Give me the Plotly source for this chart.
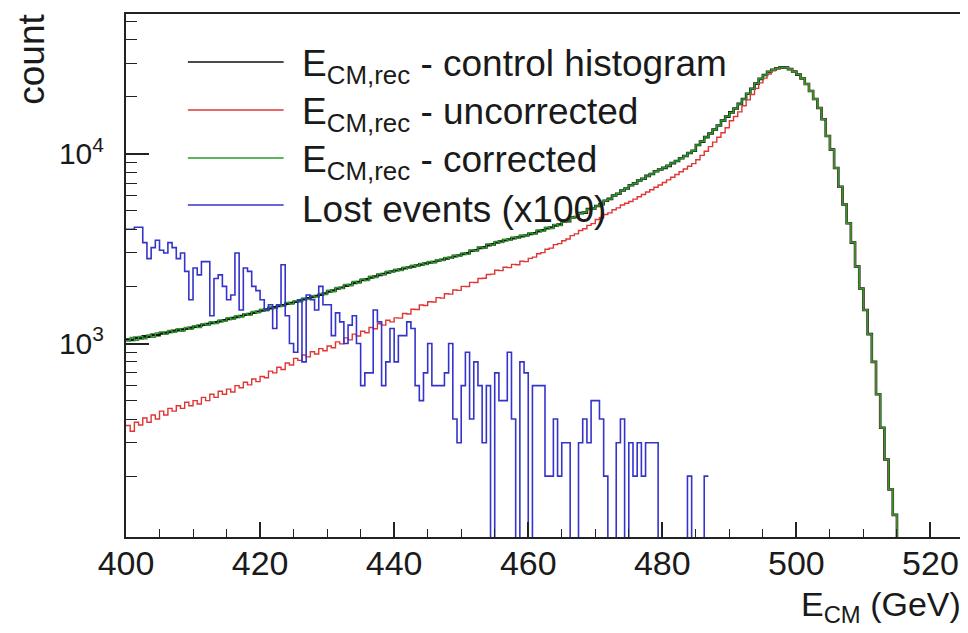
import plotly.graph_objects as go

# ---------------- data (bin width 0.625 GeV, first bin starts at 400 GeV) ----------------
bin_start = 400.0
bin_width = 0.625

control = [
    1050, 1045, 1070, 1065, 1090, 1085, 1110, 1105,
    1130, 1140, 1150, 1165, 1175, 1185, 1195, 1210,
    1225, 1240, 1255, 1265, 1285, 1295, 1310, 1325,
    1345, 1360, 1380, 1395, 1420, 1430, 1455, 1470,
    1495, 1510, 1535, 1550, 1575, 1590, 1620, 1635,
    1660, 1680, 1710, 1730, 1760, 1780, 1810, 1835,
    1880, 1900, 1950, 1965, 2015, 2035, 2085, 2110,
    2160, 2180, 2230, 2255, 2300, 2325, 2370, 2395,
    2430, 2450, 2490, 2515, 2550, 2575, 2610, 2635,
    2670, 2690, 2735, 2760, 2810, 2830, 2885, 2910,
    2960, 2990, 3080, 3100, 3190, 3210, 3300, 3330,
    3410, 3440, 3500, 3530, 3590, 3620, 3680, 3710,
    3780, 3810, 3910, 3950, 4050, 4080, 4190, 4230,
    4390, 4410, 4610, 4640, 4860, 4890, 5110, 5140,
    5300, 5420, 5650, 5780, 6020, 6150, 6400, 6560,
    6820, 6980, 7230, 7380, 7640, 7810, 8080, 8250,
    8420, 8630, 8920, 9150, 9470, 9730, 10080, 10360,
    11120, 11580, 12230, 12780, 13420, 14080, 14930, 15680,
    16500, 17300, 18300, 19400, 20700, 22000, 23400, 24800,
    26000, 27000, 27700, 28200, 28500, 28400, 27900, 27100,
    26100, 24900, 23300, 21400, 19400, 17400, 15200, 12400,
    10500, 8400, 6700, 5400, 4300, 3400, 2550, 1950,
    1500, 1120, 800, 540, 360, 245, 170, 125,
    90,
]

uncorrected = [
    370, 345, 385, 372, 405, 385, 420, 400,
    440, 420, 455, 440, 470, 455, 490, 470,
    500, 480, 520, 500, 540, 520, 560, 540,
    575, 555, 600, 585, 625, 605, 650, 630,
    670, 660, 715, 700, 750, 730, 790, 770,
    835, 815, 870, 850, 905, 880, 940, 915,
    970, 950, 1020, 995, 1070, 1045, 1120, 1095,
    1160, 1140, 1215, 1195, 1270, 1250, 1325, 1300,
    1365, 1360, 1440, 1430, 1515, 1510, 1595, 1585,
    1660, 1655, 1745, 1735, 1830, 1820, 1915, 1905,
    2000, 1995, 2100, 2095, 2200, 2205, 2310, 2320,
    2430, 2420, 2520, 2510, 2610, 2600, 2710, 2700,
    2810, 2850, 2970, 3010, 3140, 3180, 3320, 3360,
    3480, 3550, 3700, 3780, 3940, 4020, 4190, 4280,
    4500, 4600, 4780, 4880, 5070, 5180, 5370, 5480,
    5600, 5760, 5930, 6100, 6280, 6460, 6650, 6840,
    7050, 7280, 7520, 7770, 8030, 8300, 8580, 8870,
    9300, 9800, 10300, 10900, 11500, 12200, 12900, 13700,
    14900, 15700, 16600, 17900, 19200, 20500, 22100, 23600,
    25000, 26300, 27300, 28000, 28400, 28350, 27900, 27100,
    26100, 24900, 23300, 21400, 19400, 17400, 15200, 12400,
    10500, 8400, 6700, 5400, 4300, 3400, 2550, 1950,
    1500, 1120, 800, 540, 360, 245, 170, 125,
    90,
]

corrected = [
    1030, 1075, 1040, 1090, 1060, 1110, 1080, 1135,
    1150, 1120, 1170, 1145, 1195, 1160, 1215, 1190,
    1240, 1215, 1270, 1250, 1300, 1275, 1330, 1310,
    1365, 1340, 1400, 1380, 1435, 1410, 1475, 1450,
    1515, 1490, 1555, 1530, 1600, 1570, 1645, 1615,
    1680, 1655, 1735, 1710, 1785, 1760, 1835, 1810,
    1905, 1875, 1975, 1950, 2045, 2020, 2120, 2085,
    2190, 2150, 2260, 2230, 2325, 2300, 2400, 2370,
    2460, 2425, 2520, 2495, 2580, 2550, 2640, 2610,
    2700, 2660, 2765, 2740, 2840, 2810, 2920, 2885,
    3000, 2950, 3110, 3080, 3220, 3190, 3340, 3300,
    3450, 3400, 3540, 3500, 3630, 3590, 3720, 3680,
    3820, 3770, 3960, 3900, 4100, 4040, 4240, 4180,
    4380, 4420, 4600, 4650, 4850, 4900, 5100, 5150,
    5300, 5420, 5650, 5780, 6020, 6150, 6400, 6560,
    6820, 6980, 7230, 7380, 7640, 7810, 8080, 8250,
    8420, 8630, 8920, 9150, 9470, 9730, 10080, 10360,
    11120, 11580, 12230, 12780, 13420, 14080, 14930, 15680,
    16500, 17300, 18300, 19400, 20700, 22000, 23400, 24800,
    26000, 27000, 27700, 28200, 28500, 28400, 27900, 27100,
    26100, 24900, 23300, 21400, 19400, 17400, 15200, 12400,
    10500, 8400, 6700, 5400, 4300, 3400, 2550, 1950,
    1500, 1120, 800, 540, 360, 245, 170, 125,
    90,
]

lost_x100 = [
    4000, 4000, 4100, 4100, 3400, 2800, 3200, 3500, 3100, 3000,
    3400, 3200, 2800, 3000, 2400, 1700, 2500, 2300, 2700, 2700,
    1400, 2200, 2300, 2000, 1700, 1800, 3000, 1500, 2500, 2400,
    2000, 1900, 1700, 1500, 1600, 1200, 1600, 2600, 1400,
    1000, 900, 1700, 800, 1800, 1700, 1500, 2000, 1600,
    1600, 1100, 1450, 1300, 1000, 1250, 1400, 1000, 600, 700,
    700, 1500, 1300, 600, 800, 1200, 800, 1100, 1100, 1300,
    1200, 600, 500, 700, 1000, 600, 600, 600, 700, 1000,
    400, 300, 600, 900, 400, 800, 600, 300, 600, 0,
    700, 500, 500, 900, 400, 0, 800, 700, 0,
    600, 600, 600, 200, 200, 400, 200, 300, 300, 0,
    0, 300, 400, 300, 500, 500, 400, 200, 0, 0,
    300, 400, 0, 300, 200, 300, 200, 300, 300, 300,
    0, 0, 0, 0, 0, 0, 0, 200, 0, 0, 0, 200,
]

series_names = [
    "E<sub>CM,rec</sub> - control histogram",
    "E<sub>CM,rec</sub> - uncorrected",
    "E<sub>CM,rec</sub> - corrected",
    "Lost events (x100)",
]

x_ticks = [400, 420, 440, 460, 480, 500, 520]
y_tick_vals = [1000, 10000]
y_tick_text = ["10<sup>3</sup>", "10<sup>4</sup>"]
y_minor_vals = [200, 300, 400, 500, 600, 700, 800, 900,
                2000, 3000, 4000, 5000, 6000, 7000, 8000, 9000,
                20000, 30000, 40000, 50000]

# ---------------- layout geometry (pixels) ----------------
# the page body has an 8 px margin, so the figure is 8 px smaller and starts at (8, 8)
OFF = 8
W, H = 968 - OFF, 633 - OFF
ML, MR, MT, MB = 126 - OFF, 2, 14 - OFF, 96
PW, PH = W - ML - MR, H - MT - MB


def px(x):
    """page pixel x -> paper coordinate"""
    return (x - OFF - ML) / PW


def py(y):
    """page pixel y -> paper coordinate"""
    return (OFF + MT + PH - y) / PH


def hist_xy(vals):
    xs = [bin_start + bin_width * i for i in range(len(vals) + 1)]
    ys = [v if v > 0 else 0.01 for v in vals] + [vals[-1] if vals[-1] > 0 else 0.01]
    return xs, ys


FONT = "Liberation Sans, Arial, Helvetica, sans-serif"
TXT = "#1a1a1a"
styles = [
    dict(color="#111111", width=2.6),
    dict(color="#e03535", width=1.4),
    dict(color="#2a9a2a", width=1.5),
    dict(color="#3434cc", width=1.6),
]
data_list = [control, uncorrected, corrected, lost_x100]

fig = go.Figure()
for name, vals, st in zip(series_names, data_list, styles):
    xs, ys = hist_xy(vals)
    fig.add_trace(go.Scatter(x=xs, y=ys, mode="lines", line=dict(shape="hv", **st),
                             name=name, showlegend=False, hoverinfo="skip"))

# custom legend (ROOT-style, no frame)
legend_rows_y = [62, 110, 158, 205]
shapes = []
annotations = []
for name, st, yy in zip(series_names, styles, legend_rows_y):
    shapes.append(dict(type="line", xref="paper", yref="paper",
                       x0=px(188), x1=px(284), y0=py(yy), y1=py(yy),
                       line=dict(color=st["color"], width=1.6)))
    annotations.append(dict(xref="paper", yref="paper", x=px(300), y=py(yy + 4),
                            xanchor="left", yanchor="middle", text=name, showarrow=False,
                            font=dict(family=FONT, size=37, color=TXT)))

annotations.append(dict(xref="paper", yref="paper", x=px(31), y=py(12),
                        xanchor="center", yanchor="top", text="count", textangle=-90,
                        showarrow=False, font=dict(family=FONT, size=37, color=TXT)))
annotations.append(dict(xref="paper", yref="paper", x=px(965), y=py(606),
                        xanchor="right", yanchor="middle", text="E<sub>CM</sub> (GeV)",
                        showarrow=False, font=dict(family=FONT, size=34, color=TXT)))

fig.update_layout(
    width=W, height=H,
    margin=dict(l=ML, r=MR, t=MT, b=MB, pad=0),
    paper_bgcolor="white", plot_bgcolor="white",
    showlegend=False,
    shapes=shapes, annotations=annotations,
    font=dict(family=FONT, color=TXT),
)
fig.update_xaxes(
    range=[400, 525], tickmode="array", tickvals=x_ticks,
    ticks="inside", ticklen=15, tickwidth=1.5, tickcolor="#222",
    minor=dict(dtick=5, ticks="inside", ticklen=8, tickwidth=1.3, tickcolor="#222"),
    showline=True, linecolor="#222", linewidth=2, mirror=True,
    showgrid=False, zeroline=False,
    ticklabelstandoff=-5,
    tickfont=dict(family=FONT, size=34, color=TXT),
)
fig.update_yaxes(
    type="log", range=[1.9805, 4.736],
    tickmode="array", tickvals=y_tick_vals, ticktext=y_tick_text,
    ticks="inside", ticklen=23, tickwidth=1.5, tickcolor="#222",
    minor=dict(tickmode="array", tickvals=y_minor_vals, ticks="inside", ticklen=11,
               tickwidth=1.3, tickcolor="#222"),
    showline=True, linecolor="#222", linewidth=2, mirror=True,
    showgrid=False, zeroline=False,
    ticklabelstandoff=14,
    tickfont=dict(family=FONT, size=30, color=TXT),
)

fig.write_html("out.html")
